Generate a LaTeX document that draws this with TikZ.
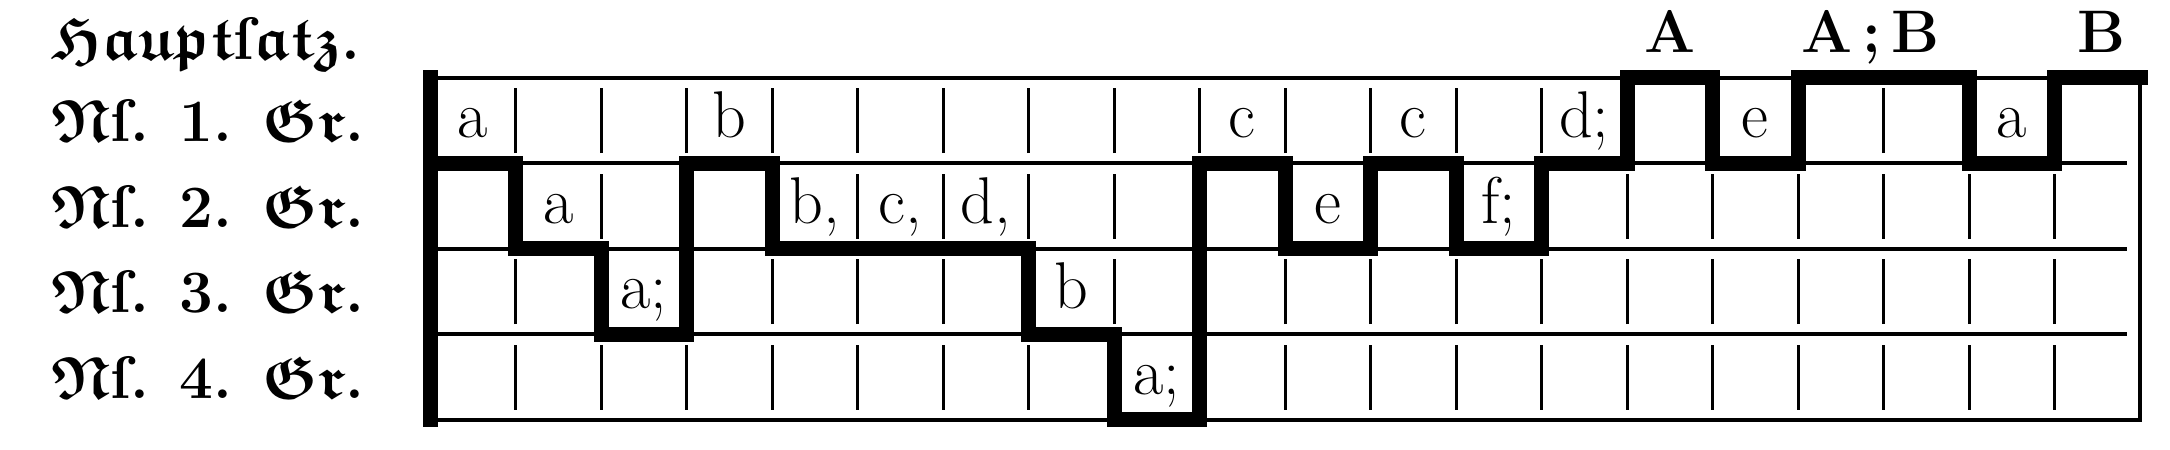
\documentclass[tikz,border=0pt]{standalone}
\usepackage{amssymb}
\newcommand{\frk}[1]{\mbox{\boldmath$\mathfrak{#1}$}}
\begin{document}
\begin{tikzpicture}[
    thinrule/.style={line width=1.2pt},
    divider/.style={line width=1pt},
    voiceline/.style={line width=5pt, line join=miter, line cap=rect},
    cell/.style={anchor=base, inner sep=0pt, font=\fontsize{22}{26}\selectfont},
    voice/.style={anchor=base, inner sep=0pt, font=\fontsize{20}{24}\selectfont\bfseries},
    lead/.style={anchor=base west, inner sep=0pt, font=\fontsize{20}{24}\selectfont\bfseries}
  ]
      % Define the size of the grid
      \def\Cols{20}
      \def\Rows{4}

      \useasboundingbox (-5.03,-0.35) rectangle (20.35,4.91);

      % Draw the frame and the row lines
      \draw[thinrule] (0,\Rows) -- (\Cols,\Rows) -- (\Cols,0) -- (0,0);
      \draw[thinrule] (0,1) -- (19.85,1);
      \draw[thinrule] (0,2) -- (19.85,2);
      \draw[thinrule] (0,3) -- (19.85,3);

      % Draw the short column dividers
      \foreach \c in {1,...,19}
        \foreach \r in {0,...,3}
          \draw[divider] (\c,\r+0.12) -- (\c,\r+0.88);

      % Draw the thick border and the course of the sentence
      \draw[voiceline] (0,\Rows) -- (0,0);
      \draw[voiceline] (0,3) -- (1,3) -- (1,2) -- (2,2) -- (2,1) -- (3,1) -- (3,3) -- (4,3)
        -- (4,2) -- (7,2) -- (7,1) -- (8,1) -- (8,0) -- (9,0) -- (9,3) -- (10,3) -- (10,2)
        -- (11,2) -- (11,3) -- (12,3) -- (12,2) -- (13,2) -- (13,3) -- (14,3) -- (14,4)
        -- (15,4) -- (15,3) -- (16,3) -- (16,4) -- (18,4) -- (18,3) -- (19,3) -- (19,4) -- (20,4);

      % Label the rows
      \node[lead] (head) at (-4.44,4.21) {\frk{Haupt}ſ\frk{atz}.};
      \node[lead] (nf1) at (-4.44,3.25) {\frk{N}ſ. 1. \frk{Gr}.};
      \node[lead] (nf2) at (-4.44,2.25) {\frk{N}ſ. 2. \frk{Gr}.};
      \node[lead] (nf3) at (-4.44,1.25) {\frk{N}ſ. 3. \frk{Gr}.};
      \node[lead] (nf4) at (-4.44,0.25) {\frk{N}ſ. 4. \frk{Gr}.};

      % Label the cells
      \node[cell] (r1c0) at (0.5,3.3) {a};
      \node[cell] (r1c3) at (3.5,3.3) {b};
      \node[cell] (r1c9) at (9.5,3.3) {c};
      \node[cell] (r1c11) at (11.5,3.3) {c};
      \node[cell] (r1c13) at (13.5,3.3) {d;};
      \node[cell] (r1c15) at (15.5,3.3) {e};
      \node[cell] (r1c18) at (18.5,3.3) {a};
      \node[cell] (r2c1) at (1.5,2.3) {a};
      \node[cell] (r2c4) at (4.5,2.3) {b,};
      \node[cell] (r2c5) at (5.5,2.3) {c,};
      \node[cell] (r2c6) at (6.5,2.3) {d,};
      \node[cell] (r2c10) at (10.5,2.3) {e};
      \node[cell] (r2c12) at (12.5,2.3) {f;};
      \node[cell] (r3c2) at (2.5,1.3) {a;};
      \node[cell] (r3c7) at (7.5,1.3) {b};
      \node[cell] (r4c8) at (8.5,0.3) {a;};

      % Label the main clauses above the grid
      \node[voice] (mainA) at (14.5,4.3) {A};
      \node[voice] (mainAB) at (16.85,4.3) {A\,;\,B};
      \node[voice] (mainB) at (19.55,4.3) {B};
\end{tikzpicture}
\end{document}
